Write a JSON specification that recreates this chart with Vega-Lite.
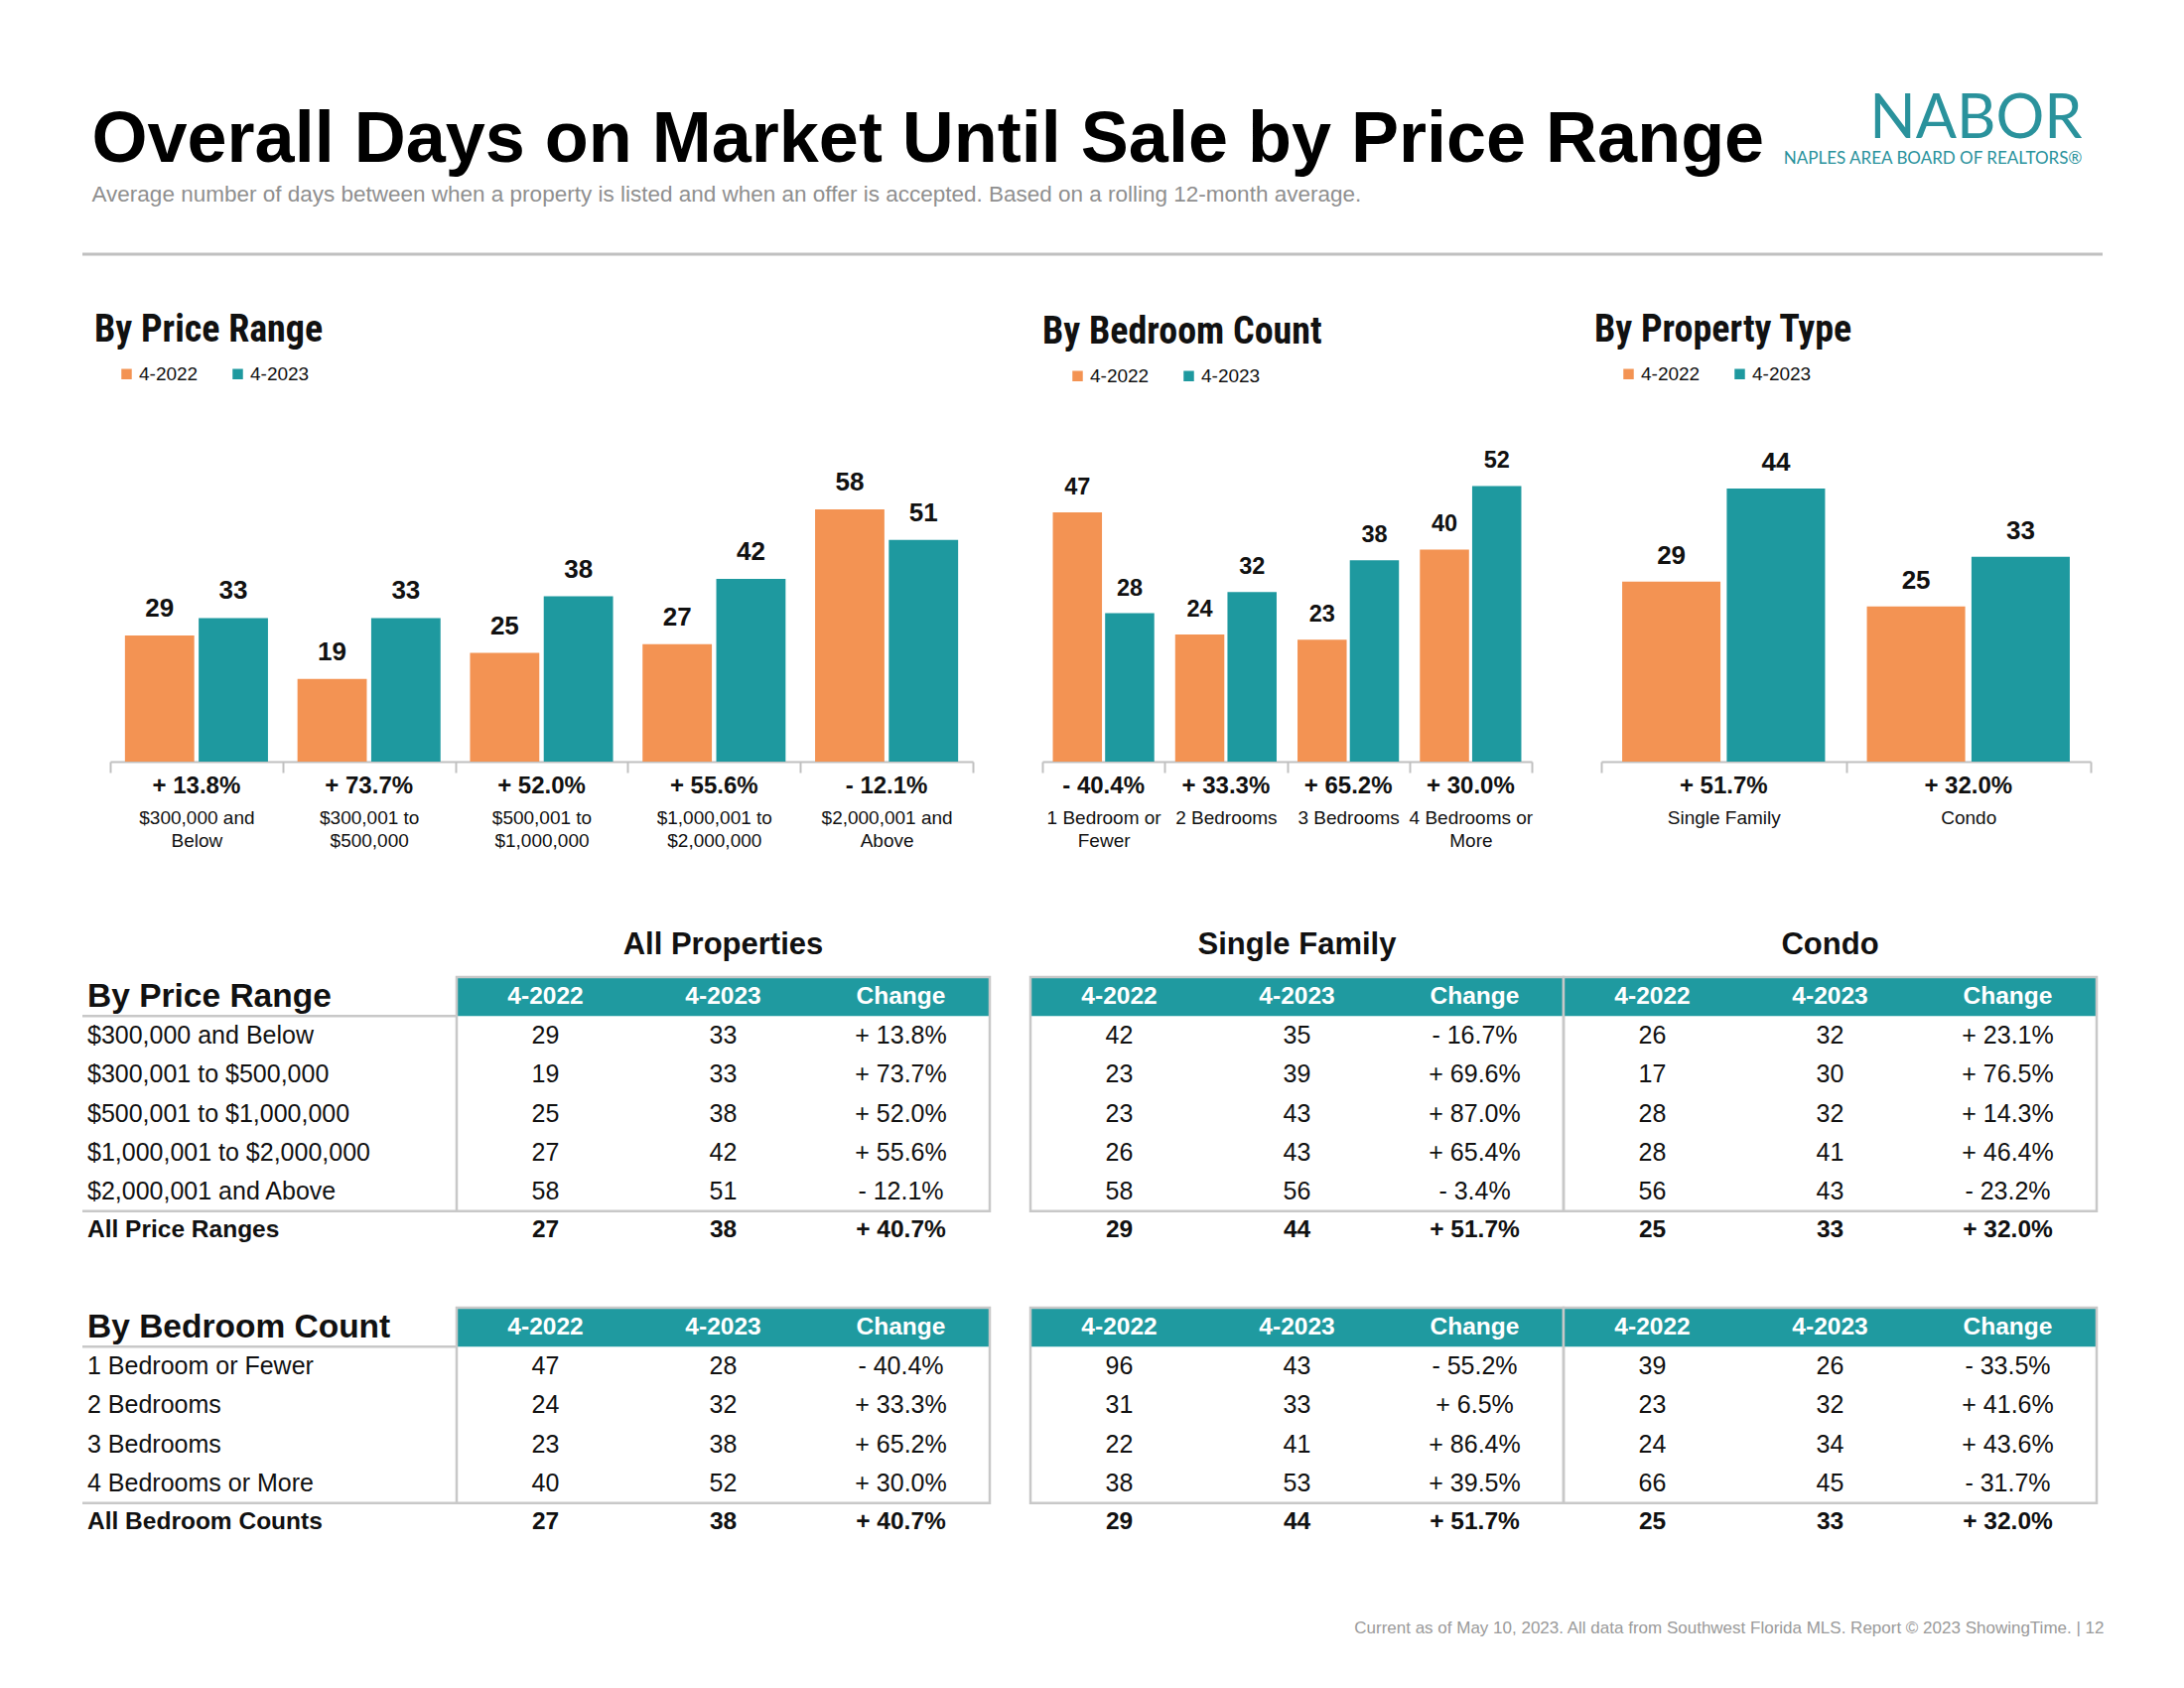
{
  "$schema": "https://vega.github.io/schema/vega-lite/v6.json",
  "background": "white",
  "padding": {"left": 81, "top": 90, "right": 10, "bottom": 10},
  "datasets": {
    "bars": [
      {"chart": "price", "cat": "$300,000 and|Below", "4-2022": 29, "4-2023": 33, "change": "+ 13.8%"},
      {"chart": "price", "cat": "$300,001 to|$500,000", "4-2022": 19, "4-2023": 33, "change": "+ 73.7%"},
      {"chart": "price", "cat": "$500,001 to|$1,000,000", "4-2022": 25, "4-2023": 38, "change": "+ 52.0%"},
      {"chart": "price", "cat": "$1,000,001 to|$2,000,000", "4-2022": 27, "4-2023": 42, "change": "+ 55.6%"},
      {"chart": "price", "cat": "$2,000,001 and|Above", "4-2022": 58, "4-2023": 51, "change": "- 12.1%"},
      {"chart": "bed", "cat": "1 Bedroom or|Fewer", "4-2022": 47, "4-2023": 28, "change": "- 40.4%"},
      {"chart": "bed", "cat": "2 Bedrooms", "4-2022": 24, "4-2023": 32, "change": "+ 33.3%"},
      {"chart": "bed", "cat": "3 Bedrooms", "4-2022": 23, "4-2023": 38, "change": "+ 65.2%"},
      {"chart": "bed", "cat": "4 Bedrooms or|More", "4-2022": 40, "4-2023": 52, "change": "+ 30.0%"},
      {"chart": "type", "cat": "Single Family", "4-2022": 29, "4-2023": 44, "change": "+ 51.7%"},
      {"chart": "type", "cat": "Condo", "4-2022": 25, "4-2023": 33, "change": "+ 32.0%"}
    ],
    "heads": [
      {"t": "price", "label": "By Price Range"},
      {"t": "bed", "label": "By Bedroom Count"}
    ],
    "hdrs": [{"col": "4-2022"}, {"col": "4-2023"}, {"col": "Change"}],
    "tbl": [
      {"t": "price", "blk": "All Properties", "row": "r1", "label": "$300,000 and Below", "4-2022": 29, "4-2023": 33, "Change": "+ 13.8%"},
      {"t": "price", "blk": "All Properties", "row": "r2", "label": "$300,001 to $500,000", "4-2022": 19, "4-2023": 33, "Change": "+ 73.7%"},
      {"t": "price", "blk": "All Properties", "row": "r3", "label": "$500,001 to $1,000,000", "4-2022": 25, "4-2023": 38, "Change": "+ 52.0%"},
      {"t": "price", "blk": "All Properties", "row": "r4", "label": "$1,000,001 to $2,000,000", "4-2022": 27, "4-2023": 42, "Change": "+ 55.6%"},
      {"t": "price", "blk": "All Properties", "row": "r5", "label": "$2,000,001 and Above", "4-2022": 58, "4-2023": 51, "Change": "- 12.1%"},
      {"t": "price", "blk": "All Properties", "row": "tot", "label": "All Price Ranges", "4-2022": 27, "4-2023": 38, "Change": "+ 40.7%"},
      {"t": "price", "blk": "Single Family", "row": "r1", "label": "$300,000 and Below", "4-2022": 42, "4-2023": 35, "Change": "- 16.7%"},
      {"t": "price", "blk": "Single Family", "row": "r2", "label": "$300,001 to $500,000", "4-2022": 23, "4-2023": 39, "Change": "+ 69.6%"},
      {"t": "price", "blk": "Single Family", "row": "r3", "label": "$500,001 to $1,000,000", "4-2022": 23, "4-2023": 43, "Change": "+ 87.0%"},
      {"t": "price", "blk": "Single Family", "row": "r4", "label": "$1,000,001 to $2,000,000", "4-2022": 26, "4-2023": 43, "Change": "+ 65.4%"},
      {"t": "price", "blk": "Single Family", "row": "r5", "label": "$2,000,001 and Above", "4-2022": 58, "4-2023": 56, "Change": "- 3.4%"},
      {"t": "price", "blk": "Single Family", "row": "tot", "label": "All Price Ranges", "4-2022": 29, "4-2023": 44, "Change": "+ 51.7%"},
      {"t": "price", "blk": "Condo", "row": "r1", "label": "$300,000 and Below", "4-2022": 26, "4-2023": 32, "Change": "+ 23.1%"},
      {"t": "price", "blk": "Condo", "row": "r2", "label": "$300,001 to $500,000", "4-2022": 17, "4-2023": 30, "Change": "+ 76.5%"},
      {"t": "price", "blk": "Condo", "row": "r3", "label": "$500,001 to $1,000,000", "4-2022": 28, "4-2023": 32, "Change": "+ 14.3%"},
      {"t": "price", "blk": "Condo", "row": "r4", "label": "$1,000,001 to $2,000,000", "4-2022": 28, "4-2023": 41, "Change": "+ 46.4%"},
      {"t": "price", "blk": "Condo", "row": "r5", "label": "$2,000,001 and Above", "4-2022": 56, "4-2023": 43, "Change": "- 23.2%"},
      {"t": "price", "blk": "Condo", "row": "tot", "label": "All Price Ranges", "4-2022": 25, "4-2023": 33, "Change": "+ 32.0%"},
      {"t": "bed", "blk": "All Properties", "row": "r1", "label": "1 Bedroom or Fewer", "4-2022": 47, "4-2023": 28, "Change": "- 40.4%"},
      {"t": "bed", "blk": "All Properties", "row": "r2", "label": "2 Bedrooms", "4-2022": 24, "4-2023": 32, "Change": "+ 33.3%"},
      {"t": "bed", "blk": "All Properties", "row": "r3", "label": "3 Bedrooms", "4-2022": 23, "4-2023": 38, "Change": "+ 65.2%"},
      {"t": "bed", "blk": "All Properties", "row": "r4", "label": "4 Bedrooms or More", "4-2022": 40, "4-2023": 52, "Change": "+ 30.0%"},
      {"t": "bed", "blk": "All Properties", "row": "tot", "label": "All Bedroom Counts", "4-2022": 27, "4-2023": 38, "Change": "+ 40.7%"},
      {"t": "bed", "blk": "Single Family", "row": "r1", "label": "1 Bedroom or Fewer", "4-2022": 96, "4-2023": 43, "Change": "- 55.2%"},
      {"t": "bed", "blk": "Single Family", "row": "r2", "label": "2 Bedrooms", "4-2022": 31, "4-2023": 33, "Change": "+ 6.5%"},
      {"t": "bed", "blk": "Single Family", "row": "r3", "label": "3 Bedrooms", "4-2022": 22, "4-2023": 41, "Change": "+ 86.4%"},
      {"t": "bed", "blk": "Single Family", "row": "r4", "label": "4 Bedrooms or More", "4-2022": 38, "4-2023": 53, "Change": "+ 39.5%"},
      {"t": "bed", "blk": "Single Family", "row": "tot", "label": "All Bedroom Counts", "4-2022": 29, "4-2023": 44, "Change": "+ 51.7%"},
      {"t": "bed", "blk": "Condo", "row": "r1", "label": "1 Bedroom or Fewer", "4-2022": 39, "4-2023": 26, "Change": "- 33.5%"},
      {"t": "bed", "blk": "Condo", "row": "r2", "label": "2 Bedrooms", "4-2022": 23, "4-2023": 32, "Change": "+ 41.6%"},
      {"t": "bed", "blk": "Condo", "row": "r3", "label": "3 Bedrooms", "4-2022": 24, "4-2023": 34, "Change": "+ 43.6%"},
      {"t": "bed", "blk": "Condo", "row": "r4", "label": "4 Bedrooms or More", "4-2022": 66, "4-2023": 45, "Change": "- 31.7%"},
      {"t": "bed", "blk": "Condo", "row": "tot", "label": "All Bedroom Counts", "4-2022": 25, "4-2023": 33, "Change": "+ 32.0%"}
    ]
  },
  "title": {"text": "Current as of May 10, 2023. All data from Southwest Florida MLS. Report © 2023 ShowingTime.   |   12", "orient": "bottom", "anchor": "end", "fontSize": 17, "fontWeight": "normal", "color": "#9a9a9a", "offset": 79},
  "spacing": 56,
  "vconcat": [
    {
      "hconcat": [
        {
          "width": 1655, "height": 40,
          "title": {"text": "Overall Days on Market Until Sale by Price Range", "subtitle": "Average number of days between when a property is listed and when an offer is accepted.  Based on a rolling 12-month average.", "anchor": "start", "fontSize": 72, "fontWeight": "bold", "color": "#000000", "subtitleFontSize": 22.5, "subtitleColor": "#8f8f8f", "subtitlePadding": 7, "offset": 8, "dx": 11},
          "data": {"values": [{}]},
          "mark": {"type": "rule", "color": "#c0c0c0", "strokeWidth": 3},
          "encoding": {"y": {"datum": 0, "type": "quantitative", "scale": {"domain": [0, 1]}, "axis": null}}
        },
        {
          "width": 380, "height": 40,
          "title": {"text": "NABOR", "subtitle": "NAPLES AREA BOARD OF REALTORS®", "anchor": "end", "font": "Lato", "fontSize": 61, "fontWeight": "normal", "color": "#2a929c", "subtitleFont": "Lato", "subtitleColor": "#2a929c", "subtitleFontSize": 17, "subtitlePadding": 0, "offset": 47, "dx": -22},
          "data": {"values": [{}]},
          "mark": {"type": "rule", "color": "#c0c0c0", "strokeWidth": 3},
          "encoding": {"y": {"datum": 0, "type": "quantitative", "scale": {"domain": [0, 1]}, "axis": null}}
        }
      ],
      "spacing": 0,
      "bounds": "flush"
    },
    {
      "hconcat": [
        {
          "width": 897, "height": 300,
          "title": {"text": "By Price Range", "anchor": "start", "frame": "group", "font": "Roboto Condensed, Open Sans Condensed, Noto Sans Condensed, Liberation Sans Narrow, DejaVu Sans Condensed, sans-serif", "fontSize": 38, "fontWeight": "bold", "offset": 15, "dx": 12},
          "data": {"name": "bars"},
          "transform": [{"filter": "datum.chart == 'price'"}],
          "encoding": {
            "x": {"field": "cat", "type": "nominal", "sort": null, "title": null, "scale": {"paddingInner": 0, "paddingOuter": 0, "range": [28, 897]},
              "axis": {"tickBand": "extent", "labelExpr": "split(datum.label, '|')", "labelAngle": 0, "labelFontSize": 19, "labelColor": "#111111", "labelPadding": 36, "labelBaseline": "top", "labelLineHeight": 23, "labelLimit": 0, "domainColor": "#c0c0c0", "domainWidth": 2, "tickColor": "#c0c0c0", "tickWidth": 2, "tickSize": 11, "grid": false, "minExtent": 112, "maxExtent": 112}}
          },
          "layer": [
            {
              "transform": [{"fold": ["4-2022", "4-2023"], "as": ["year", "value"]}],
              "mark": {"type": "bar"},
              "encoding": {
                "xOffset": {"field": "year", "type": "nominal", "scale": {"paddingInner": 0.06, "paddingOuter": 0.2}},
                "y": {"field": "value", "type": "quantitative", "scale": {"domain": [0, 68.5], "nice": false}, "axis": null},
                "color": {"field": "year", "type": "nominal", "scale": {"domain": ["4-2022", "4-2023"], "range": ["#F39353", "#1E999F"]},
                  "legend": {"orient": "none", "legendX": 35, "legendY": -100, "direction": "horizontal", "title": null, "symbolType": "square", "symbolSize": 110, "symbolStrokeWidth": 0, "labelFontSize": 19, "labelColor": "#111111", "columnPadding": 30, "labelOffset": 3}}
              }
            },
            {
              "transform": [{"fold": ["4-2022", "4-2023"], "as": ["year", "value"]}],
              "mark": {"type": "text", "baseline": "alphabetic", "dy": -19, "fontSize": 26, "fontWeight": "bold", "color": "#111111"},
              "encoding": {
                "xOffset": {"field": "year", "type": "nominal"},
                "y": {"field": "value", "type": "quantitative"},
                "text": {"field": "value", "type": "quantitative"}
              }
            },
            {
              "mark": {"type": "text", "baseline": "middle", "dy": 25, "fontSize": 24, "fontWeight": "bold", "color": "#111111"},
              "encoding": {
                "y": {"datum": 0, "type": "quantitative"},
                "text": {"field": "change", "type": "nominal"}
              }
            }
          ]
        },
        {
          "width": 493, "height": 300,
          "title": {"text": "By Bedroom Count", "anchor": "start", "frame": "group", "font": "Roboto Condensed, Open Sans Condensed, Noto Sans Condensed, Liberation Sans Narrow, DejaVu Sans Condensed, sans-serif", "fontSize": 38, "fontWeight": "bold", "offset": 15, "dx": 0},
          "data": {"name": "bars"},
          "transform": [{"filter": "datum.chart == 'bed'"}],
          "encoding": {
            "x": {"field": "cat", "type": "nominal", "sort": null, "title": null, "scale": {"paddingInner": 0, "paddingOuter": 0},
              "axis": {"tickBand": "extent", "labelExpr": "split(datum.label, '|')", "labelAngle": 0, "labelFontSize": 19, "labelColor": "#111111", "labelPadding": 36, "labelBaseline": "top", "labelLineHeight": 23, "labelLimit": 0, "domainColor": "#c0c0c0", "domainWidth": 2, "tickColor": "#c0c0c0", "tickWidth": 2, "tickSize": 11, "grid": false, "minExtent": 112, "maxExtent": 112}}
          },
          "layer": [
            {
              "transform": [{"fold": ["4-2022", "4-2023"], "as": ["year", "value"]}],
              "mark": {"type": "bar"},
              "encoding": {
                "xOffset": {"field": "year", "type": "nominal", "scale": {"paddingInner": 0.06, "paddingOuter": 0.2}},
                "y": {"field": "value", "type": "quantitative", "scale": {"domain": [0, 56.2], "nice": false}, "axis": null},
                "color": {"field": "year", "type": "nominal", "scale": {"domain": ["4-2022", "4-2023"], "range": ["#F39353", "#1E999F"]},
                  "legend": {"orient": "none", "legendX": 26, "legendY": -98, "direction": "horizontal", "title": null, "symbolType": "square", "symbolSize": 110, "symbolStrokeWidth": 0, "labelFontSize": 19, "labelColor": "#111111", "columnPadding": 30, "labelOffset": 3}}
              }
            },
            {
              "transform": [{"fold": ["4-2022", "4-2023"], "as": ["year", "value"]}],
              "mark": {"type": "text", "baseline": "alphabetic", "dy": -18, "fontSize": 23.5, "fontWeight": "bold", "color": "#111111"},
              "encoding": {
                "xOffset": {"field": "year", "type": "nominal"},
                "y": {"field": "value", "type": "quantitative"},
                "text": {"field": "value", "type": "quantitative"}
              }
            },
            {
              "mark": {"type": "text", "baseline": "middle", "dy": 25, "fontSize": 24, "fontWeight": "bold", "color": "#111111"},
              "encoding": {
                "y": {"datum": 0, "type": "quantitative"},
                "text": {"field": "change", "type": "nominal"}
              }
            }
          ]
        },
        {
          "width": 493, "height": 300,
          "title": {"text": "By Property Type", "anchor": "start", "frame": "group", "font": "Roboto Condensed, Open Sans Condensed, Noto Sans Condensed, Liberation Sans Narrow, DejaVu Sans Condensed, sans-serif", "fontSize": 38, "fontWeight": "bold", "offset": 15, "dx": -7},
          "data": {"name": "bars"},
          "transform": [{"filter": "datum.chart == 'type'"}],
          "encoding": {
            "x": {"field": "cat", "type": "nominal", "sort": null, "title": null, "scale": {"paddingInner": 0, "paddingOuter": 0},
              "axis": {"tickBand": "extent", "labelExpr": "split(datum.label, '|')", "labelAngle": 0, "labelFontSize": 19, "labelColor": "#111111", "labelPadding": 36, "labelBaseline": "top", "labelLineHeight": 23, "labelLimit": 0, "domainColor": "#c0c0c0", "domainWidth": 2, "tickColor": "#c0c0c0", "tickWidth": 2, "tickSize": 11, "grid": false, "minExtent": 112, "maxExtent": 112}}
          },
          "layer": [
            {
              "transform": [{"fold": ["4-2022", "4-2023"], "as": ["year", "value"]}],
              "mark": {"type": "bar"},
              "encoding": {
                "xOffset": {"field": "year", "type": "nominal", "scale": {"paddingInner": 0.06, "paddingOuter": 0.2}},
                "y": {"field": "value", "type": "quantitative", "scale": {"domain": [0, 48], "nice": false}, "axis": null},
                "color": {"field": "year", "type": "nominal", "scale": {"domain": ["4-2022", "4-2023"], "range": ["#F39353", "#1E999F"]},
                  "legend": {"orient": "none", "legendX": 18, "legendY": -100, "direction": "horizontal", "title": null, "symbolType": "square", "symbolSize": 110, "symbolStrokeWidth": 0, "labelFontSize": 19, "labelColor": "#111111", "columnPadding": 30, "labelOffset": 3}}
              }
            },
            {
              "transform": [{"fold": ["4-2022", "4-2023"], "as": ["year", "value"]}],
              "mark": {"type": "text", "baseline": "alphabetic", "dy": -18, "fontSize": 26, "fontWeight": "bold", "color": "#111111"},
              "encoding": {
                "xOffset": {"field": "year", "type": "nominal"},
                "y": {"field": "value", "type": "quantitative"},
                "text": {"field": "value", "type": "quantitative"}
              }
            },
            {
              "mark": {"type": "text", "baseline": "middle", "dy": 25, "fontSize": 24, "fontWeight": "bold", "color": "#111111"},
              "encoding": {
                "y": {"datum": 0, "type": "quantitative"},
                "text": {"field": "change", "type": "nominal"}
              }
            }
          ]
        }
      ],
      "spacing": 70,
      "bounds": "flush",
      "resolve": {"scale": {"x": "independent", "y": "independent", "xOffset": "independent", "color": "independent"}, "legend": {"color": "independent"}}
    },
    {
      "hconcat": [
        {
          "width": 377, "height": 275,
          "layer": [
            {"data": {"name": "heads"}, "transform": [{"filter": "datum.t == 'price'"}], "mark": {"type": "text", "align": "left", "baseline": "middle", "fontSize": 33.5, "fontWeight": "bold", "dx": 5, "color": "#111111"},
              "encoding": {"x": {"datum": "lbl", "type": "nominal", "bandPosition": 0, "scale": {"type": "band", "paddingInner": 0, "paddingOuter": 0}, "axis": null}, "y": {"datum": "hdr", "type": "nominal", "scale": {"type": "band", "domain": ["hdr", "r1", "r2", "r3", "r4", "r5", "tot"], "paddingInner": 0, "paddingOuter": 0}, "axis": null}, "text": {"field": "label"}}},
            {"data": {"name": "tbl"}, "transform": [{"filter": "datum.t == 'price' && datum.blk == 'All Properties' && datum.row != 'tot'"}], "mark": {"type": "text", "align": "left", "baseline": "middle", "fontSize": 25, "dx": 5, "color": "#111111"},
              "encoding": {"x": {"datum": "lbl", "type": "nominal", "bandPosition": 0}, "y": {"field": "row", "type": "nominal"}, "text": {"field": "label"}}},
            {"data": {"name": "tbl"}, "transform": [{"filter": "datum.t == 'price' && datum.blk == 'All Properties' && datum.row == 'tot'"}], "mark": {"type": "text", "align": "left", "baseline": "middle", "fontSize": 24.5, "fontWeight": "bold", "dx": 5, "color": "#111111"},
              "encoding": {"x": {"datum": "lbl", "type": "nominal", "bandPosition": 0}, "y": {"field": "row", "type": "nominal"}, "text": {"field": "label"}}},
            {"data": {"values": [{}]}, "mark": {"type": "rule", "color": "#c8c8c8", "strokeWidth": 2.5}, "encoding": {"y": {"datum": "r1", "type": "nominal", "bandPosition": 0}}},
            {"data": {"values": [{}]}, "mark": {"type": "rule", "color": "#c8c8c8", "strokeWidth": 2.5}, "encoding": {"y": {"datum": "tot", "type": "nominal", "bandPosition": 0}}}
          ]
        },
        {
          "width": 537, "height": 275,
          "title": {"text": "All Properties", "fontSize": 31, "fontWeight": "bold", "offset": 15, "anchor": "middle", "color": "#111111"},
          "layer": [
            {"data": {"name": "hdrs"}, "mark": {"type": "rect", "color": "#1F9AA0"},
              "encoding": {"x": {"field": "col", "type": "nominal", "scale": {"domain": ["4-2022", "4-2023", "Change"], "paddingInner": 0, "paddingOuter": 0}, "axis": null}, "y": {"datum": "hdr", "type": "nominal", "scale": {"domain": ["hdr", "r1", "r2", "r3", "r4", "r5", "tot"], "paddingInner": 0, "paddingOuter": 0}, "axis": null}}},
            {"data": {"name": "hdrs"}, "mark": {"type": "text", "color": "white", "fontSize": 24.5, "fontWeight": "bold", "baseline": "middle"},
              "encoding": {"x": {"field": "col", "type": "nominal"}, "y": {"datum": "hdr", "type": "nominal"}, "text": {"field": "col"}}},
            {"data": {"name": "tbl"}, "transform": [{"filter": "datum.t == 'price' && datum.blk == 'All Properties' && datum.row != 'tot'"}, {"fold": ["4-2022", "4-2023", "Change"], "as": ["col", "val"]}], "mark": {"type": "text", "fontSize": 25, "baseline": "middle", "color": "#111111"},
              "encoding": {"x": {"field": "col", "type": "nominal"}, "y": {"field": "row", "type": "nominal"}, "text": {"field": "val", "type": "nominal"}}},
            {"data": {"name": "tbl"}, "transform": [{"filter": "datum.t == 'price' && datum.blk == 'All Properties' && datum.row == 'tot'"}, {"fold": ["4-2022", "4-2023", "Change"], "as": ["col", "val"]}], "mark": {"type": "text", "fontSize": 24.5, "fontWeight": "bold", "baseline": "middle", "color": "#111111"},
              "encoding": {"x": {"field": "col", "type": "nominal"}, "y": {"field": "row", "type": "nominal"}, "text": {"field": "val", "type": "nominal"}}},
            {"data": {"values": [{}]}, "mark": {"type": "rect", "fill": "transparent", "stroke": "#c8c8c8", "strokeWidth": 2.5},
              "encoding": {"x": {"datum": "4-2022", "type": "nominal", "bandPosition": 0}, "x2": {"datum": "Change", "bandPosition": 1}, "y": {"datum": "hdr", "type": "nominal", "bandPosition": 0}, "y2": {"datum": "tot", "bandPosition": 0}}}
          ]
        },
        {
          "width": 41, "height": 275,
          "data": {"values": []},
          "mark": {"type": "point"},
          "encoding": {}
        },
        {
          "width": 537, "height": 275,
          "title": {"text": "Single Family", "fontSize": 31, "fontWeight": "bold", "offset": 15, "anchor": "middle", "color": "#111111"},
          "layer": [
            {"data": {"name": "hdrs"}, "mark": {"type": "rect", "color": "#1F9AA0"},
              "encoding": {"x": {"field": "col", "type": "nominal", "scale": {"domain": ["4-2022", "4-2023", "Change"], "paddingInner": 0, "paddingOuter": 0}, "axis": null}, "y": {"datum": "hdr", "type": "nominal", "scale": {"domain": ["hdr", "r1", "r2", "r3", "r4", "r5", "tot"], "paddingInner": 0, "paddingOuter": 0}, "axis": null}}},
            {"data": {"name": "hdrs"}, "mark": {"type": "text", "color": "white", "fontSize": 24.5, "fontWeight": "bold", "baseline": "middle"},
              "encoding": {"x": {"field": "col", "type": "nominal"}, "y": {"datum": "hdr", "type": "nominal"}, "text": {"field": "col"}}},
            {"data": {"name": "tbl"}, "transform": [{"filter": "datum.t == 'price' && datum.blk == 'Single Family' && datum.row != 'tot'"}, {"fold": ["4-2022", "4-2023", "Change"], "as": ["col", "val"]}], "mark": {"type": "text", "fontSize": 25, "baseline": "middle", "color": "#111111"},
              "encoding": {"x": {"field": "col", "type": "nominal"}, "y": {"field": "row", "type": "nominal"}, "text": {"field": "val", "type": "nominal"}}},
            {"data": {"name": "tbl"}, "transform": [{"filter": "datum.t == 'price' && datum.blk == 'Single Family' && datum.row == 'tot'"}, {"fold": ["4-2022", "4-2023", "Change"], "as": ["col", "val"]}], "mark": {"type": "text", "fontSize": 24.5, "fontWeight": "bold", "baseline": "middle", "color": "#111111"},
              "encoding": {"x": {"field": "col", "type": "nominal"}, "y": {"field": "row", "type": "nominal"}, "text": {"field": "val", "type": "nominal"}}},
            {"data": {"values": [{}]}, "mark": {"type": "rect", "fill": "transparent", "stroke": "#c8c8c8", "strokeWidth": 2.5},
              "encoding": {"x": {"datum": "4-2022", "type": "nominal", "bandPosition": 0}, "x2": {"datum": "Change", "bandPosition": 1}, "y": {"datum": "hdr", "type": "nominal", "bandPosition": 0}, "y2": {"datum": "tot", "bandPosition": 0}}}
          ]
        },
        {
          "width": 537, "height": 275,
          "title": {"text": "Condo", "fontSize": 31, "fontWeight": "bold", "offset": 15, "anchor": "middle", "color": "#111111"},
          "layer": [
            {"data": {"name": "hdrs"}, "mark": {"type": "rect", "color": "#1F9AA0"},
              "encoding": {"x": {"field": "col", "type": "nominal", "scale": {"domain": ["4-2022", "4-2023", "Change"], "paddingInner": 0, "paddingOuter": 0}, "axis": null}, "y": {"datum": "hdr", "type": "nominal", "scale": {"domain": ["hdr", "r1", "r2", "r3", "r4", "r5", "tot"], "paddingInner": 0, "paddingOuter": 0}, "axis": null}}},
            {"data": {"name": "hdrs"}, "mark": {"type": "text", "color": "white", "fontSize": 24.5, "fontWeight": "bold", "baseline": "middle"},
              "encoding": {"x": {"field": "col", "type": "nominal"}, "y": {"datum": "hdr", "type": "nominal"}, "text": {"field": "col"}}},
            {"data": {"name": "tbl"}, "transform": [{"filter": "datum.t == 'price' && datum.blk == 'Condo' && datum.row != 'tot'"}, {"fold": ["4-2022", "4-2023", "Change"], "as": ["col", "val"]}], "mark": {"type": "text", "fontSize": 25, "baseline": "middle", "color": "#111111"},
              "encoding": {"x": {"field": "col", "type": "nominal"}, "y": {"field": "row", "type": "nominal"}, "text": {"field": "val", "type": "nominal"}}},
            {"data": {"name": "tbl"}, "transform": [{"filter": "datum.t == 'price' && datum.blk == 'Condo' && datum.row == 'tot'"}, {"fold": ["4-2022", "4-2023", "Change"], "as": ["col", "val"]}], "mark": {"type": "text", "fontSize": 24.5, "fontWeight": "bold", "baseline": "middle", "color": "#111111"},
              "encoding": {"x": {"field": "col", "type": "nominal"}, "y": {"field": "row", "type": "nominal"}, "text": {"field": "val", "type": "nominal"}}},
            {"data": {"values": [{}]}, "mark": {"type": "rect", "fill": "transparent", "stroke": "#c8c8c8", "strokeWidth": 2.5},
              "encoding": {"x": {"datum": "4-2022", "type": "nominal", "bandPosition": 0}, "x2": {"datum": "Change", "bandPosition": 1}, "y": {"datum": "hdr", "type": "nominal", "bandPosition": 0}, "y2": {"datum": "tot", "bandPosition": 0}}}
          ]
        }
      ],
      "spacing": 0,
      "bounds": "flush"
    },
    {
      "hconcat": [
        {
          "width": 377, "height": 236,
          "layer": [
            {"data": {"name": "heads"}, "transform": [{"filter": "datum.t == 'bed'"}], "mark": {"type": "text", "align": "left", "baseline": "middle", "fontSize": 33.5, "fontWeight": "bold", "dx": 5, "color": "#111111"},
              "encoding": {"x": {"datum": "lbl", "type": "nominal", "bandPosition": 0, "scale": {"type": "band", "paddingInner": 0, "paddingOuter": 0}, "axis": null}, "y": {"datum": "hdr", "type": "nominal", "scale": {"type": "band", "domain": ["hdr", "r1", "r2", "r3", "r4", "tot"], "paddingInner": 0, "paddingOuter": 0}, "axis": null}, "text": {"field": "label"}}},
            {"data": {"name": "tbl"}, "transform": [{"filter": "datum.t == 'bed' && datum.blk == 'All Properties' && datum.row != 'tot'"}], "mark": {"type": "text", "align": "left", "baseline": "middle", "fontSize": 25, "dx": 5, "color": "#111111"},
              "encoding": {"x": {"datum": "lbl", "type": "nominal", "bandPosition": 0}, "y": {"field": "row", "type": "nominal"}, "text": {"field": "label"}}},
            {"data": {"name": "tbl"}, "transform": [{"filter": "datum.t == 'bed' && datum.blk == 'All Properties' && datum.row == 'tot'"}], "mark": {"type": "text", "align": "left", "baseline": "middle", "fontSize": 24.5, "fontWeight": "bold", "dx": 5, "color": "#111111"},
              "encoding": {"x": {"datum": "lbl", "type": "nominal", "bandPosition": 0}, "y": {"field": "row", "type": "nominal"}, "text": {"field": "label"}}},
            {"data": {"values": [{}]}, "mark": {"type": "rule", "color": "#c8c8c8", "strokeWidth": 2.5}, "encoding": {"y": {"datum": "r1", "type": "nominal", "bandPosition": 0}}},
            {"data": {"values": [{}]}, "mark": {"type": "rule", "color": "#c8c8c8", "strokeWidth": 2.5}, "encoding": {"y": {"datum": "tot", "type": "nominal", "bandPosition": 0}}}
          ]
        },
        {
          "width": 537, "height": 236,
          "layer": [
            {"data": {"name": "hdrs"}, "mark": {"type": "rect", "color": "#1F9AA0"},
              "encoding": {"x": {"field": "col", "type": "nominal", "scale": {"domain": ["4-2022", "4-2023", "Change"], "paddingInner": 0, "paddingOuter": 0}, "axis": null}, "y": {"datum": "hdr", "type": "nominal", "scale": {"domain": ["hdr", "r1", "r2", "r3", "r4", "tot"], "paddingInner": 0, "paddingOuter": 0}, "axis": null}}},
            {"data": {"name": "hdrs"}, "mark": {"type": "text", "color": "white", "fontSize": 24.5, "fontWeight": "bold", "baseline": "middle"},
              "encoding": {"x": {"field": "col", "type": "nominal"}, "y": {"datum": "hdr", "type": "nominal"}, "text": {"field": "col"}}},
            {"data": {"name": "tbl"}, "transform": [{"filter": "datum.t == 'bed' && datum.blk == 'All Properties' && datum.row != 'tot'"}, {"fold": ["4-2022", "4-2023", "Change"], "as": ["col", "val"]}], "mark": {"type": "text", "fontSize": 25, "baseline": "middle", "color": "#111111"},
              "encoding": {"x": {"field": "col", "type": "nominal"}, "y": {"field": "row", "type": "nominal"}, "text": {"field": "val", "type": "nominal"}}},
            {"data": {"name": "tbl"}, "transform": [{"filter": "datum.t == 'bed' && datum.blk == 'All Properties' && datum.row == 'tot'"}, {"fold": ["4-2022", "4-2023", "Change"], "as": ["col", "val"]}], "mark": {"type": "text", "fontSize": 24.5, "fontWeight": "bold", "baseline": "middle", "color": "#111111"},
              "encoding": {"x": {"field": "col", "type": "nominal"}, "y": {"field": "row", "type": "nominal"}, "text": {"field": "val", "type": "nominal"}}},
            {"data": {"values": [{}]}, "mark": {"type": "rect", "fill": "transparent", "stroke": "#c8c8c8", "strokeWidth": 2.5},
              "encoding": {"x": {"datum": "4-2022", "type": "nominal", "bandPosition": 0}, "x2": {"datum": "Change", "bandPosition": 1}, "y": {"datum": "hdr", "type": "nominal", "bandPosition": 0}, "y2": {"datum": "tot", "bandPosition": 0}}}
          ]
        },
        {
          "width": 41, "height": 236,
          "data": {"values": []},
          "mark": {"type": "point"},
          "encoding": {}
        },
        {
          "width": 537, "height": 236,
          "layer": [
            {"data": {"name": "hdrs"}, "mark": {"type": "rect", "color": "#1F9AA0"},
              "encoding": {"x": {"field": "col", "type": "nominal", "scale": {"domain": ["4-2022", "4-2023", "Change"], "paddingInner": 0, "paddingOuter": 0}, "axis": null}, "y": {"datum": "hdr", "type": "nominal", "scale": {"domain": ["hdr", "r1", "r2", "r3", "r4", "tot"], "paddingInner": 0, "paddingOuter": 0}, "axis": null}}},
            {"data": {"name": "hdrs"}, "mark": {"type": "text", "color": "white", "fontSize": 24.5, "fontWeight": "bold", "baseline": "middle"},
              "encoding": {"x": {"field": "col", "type": "nominal"}, "y": {"datum": "hdr", "type": "nominal"}, "text": {"field": "col"}}},
            {"data": {"name": "tbl"}, "transform": [{"filter": "datum.t == 'bed' && datum.blk == 'Single Family' && datum.row != 'tot'"}, {"fold": ["4-2022", "4-2023", "Change"], "as": ["col", "val"]}], "mark": {"type": "text", "fontSize": 25, "baseline": "middle", "color": "#111111"},
              "encoding": {"x": {"field": "col", "type": "nominal"}, "y": {"field": "row", "type": "nominal"}, "text": {"field": "val", "type": "nominal"}}},
            {"data": {"name": "tbl"}, "transform": [{"filter": "datum.t == 'bed' && datum.blk == 'Single Family' && datum.row == 'tot'"}, {"fold": ["4-2022", "4-2023", "Change"], "as": ["col", "val"]}], "mark": {"type": "text", "fontSize": 24.5, "fontWeight": "bold", "baseline": "middle", "color": "#111111"},
              "encoding": {"x": {"field": "col", "type": "nominal"}, "y": {"field": "row", "type": "nominal"}, "text": {"field": "val", "type": "nominal"}}},
            {"data": {"values": [{}]}, "mark": {"type": "rect", "fill": "transparent", "stroke": "#c8c8c8", "strokeWidth": 2.5},
              "encoding": {"x": {"datum": "4-2022", "type": "nominal", "bandPosition": 0}, "x2": {"datum": "Change", "bandPosition": 1}, "y": {"datum": "hdr", "type": "nominal", "bandPosition": 0}, "y2": {"datum": "tot", "bandPosition": 0}}}
          ]
        },
        {
          "width": 537, "height": 236,
          "layer": [
            {"data": {"name": "hdrs"}, "mark": {"type": "rect", "color": "#1F9AA0"},
              "encoding": {"x": {"field": "col", "type": "nominal", "scale": {"domain": ["4-2022", "4-2023", "Change"], "paddingInner": 0, "paddingOuter": 0}, "axis": null}, "y": {"datum": "hdr", "type": "nominal", "scale": {"domain": ["hdr", "r1", "r2", "r3", "r4", "tot"], "paddingInner": 0, "paddingOuter": 0}, "axis": null}}},
            {"data": {"name": "hdrs"}, "mark": {"type": "text", "color": "white", "fontSize": 24.5, "fontWeight": "bold", "baseline": "middle"},
              "encoding": {"x": {"field": "col", "type": "nominal"}, "y": {"datum": "hdr", "type": "nominal"}, "text": {"field": "col"}}},
            {"data": {"name": "tbl"}, "transform": [{"filter": "datum.t == 'bed' && datum.blk == 'Condo' && datum.row != 'tot'"}, {"fold": ["4-2022", "4-2023", "Change"], "as": ["col", "val"]}], "mark": {"type": "text", "fontSize": 25, "baseline": "middle", "color": "#111111"},
              "encoding": {"x": {"field": "col", "type": "nominal"}, "y": {"field": "row", "type": "nominal"}, "text": {"field": "val", "type": "nominal"}}},
            {"data": {"name": "tbl"}, "transform": [{"filter": "datum.t == 'bed' && datum.blk == 'Condo' && datum.row == 'tot'"}, {"fold": ["4-2022", "4-2023", "Change"], "as": ["col", "val"]}], "mark": {"type": "text", "fontSize": 24.5, "fontWeight": "bold", "baseline": "middle", "color": "#111111"},
              "encoding": {"x": {"field": "col", "type": "nominal"}, "y": {"field": "row", "type": "nominal"}, "text": {"field": "val", "type": "nominal"}}},
            {"data": {"values": [{}]}, "mark": {"type": "rect", "fill": "transparent", "stroke": "#c8c8c8", "strokeWidth": 2.5},
              "encoding": {"x": {"datum": "4-2022", "type": "nominal", "bandPosition": 0}, "x2": {"datum": "Change", "bandPosition": 1}, "y": {"datum": "hdr", "type": "nominal", "bandPosition": 0}, "y2": {"datum": "tot", "bandPosition": 0}}}
          ]
        }
      ],
      "spacing": 0,
      "bounds": "flush"
    }
  ],
  "config": {
    "font": "Liberation Sans",
    "view": {"stroke": null},
    "title": {"color": "#111111"},
    "legend": {"labelFont": "Liberation Sans"}
  }
}
